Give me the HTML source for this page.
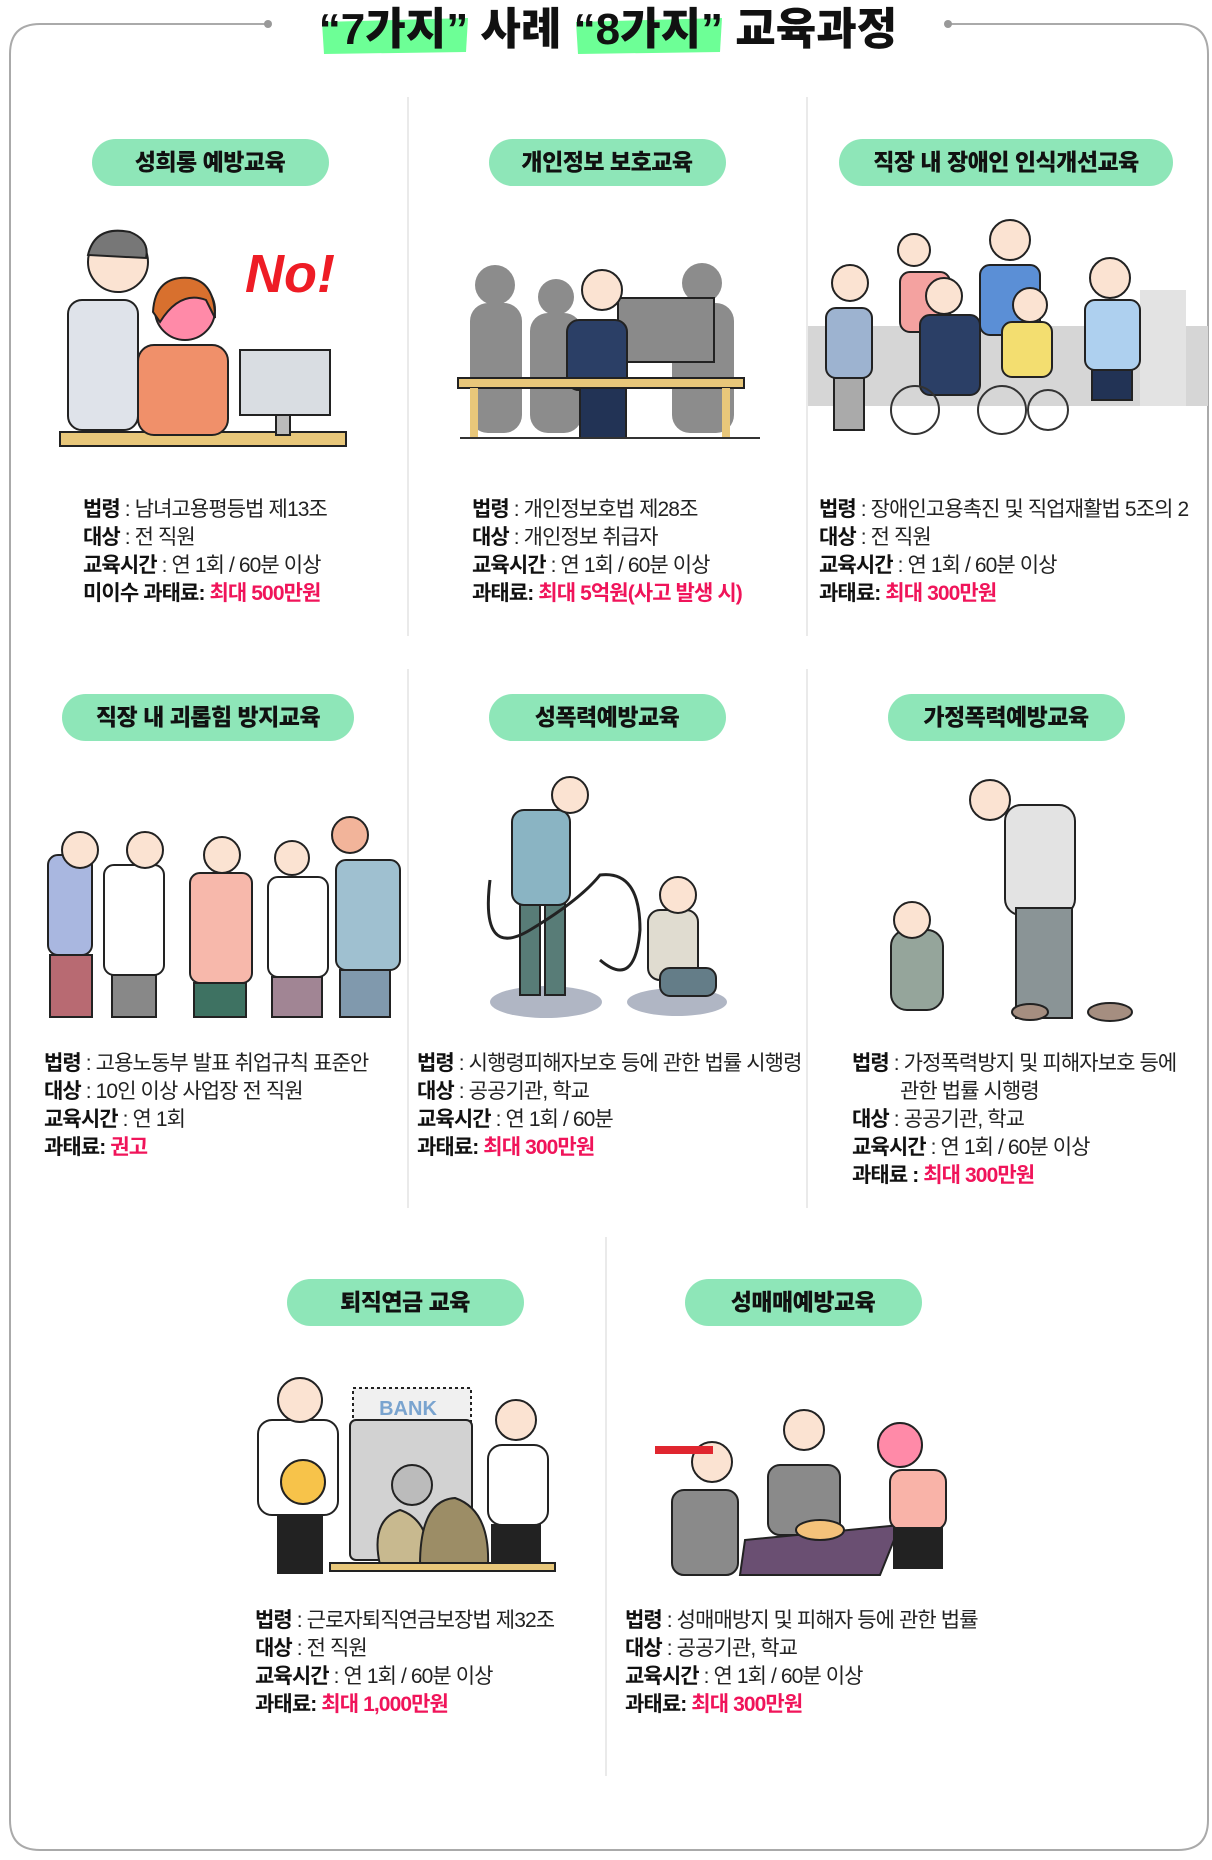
<!DOCTYPE html>
<html><head><meta charset="utf-8"><style>
html,body{margin:0;padding:0;background:#fff;width:1212px;height:1860px;overflow:hidden}
svg{display:block}
text{font-family:"Liberation Sans","Noto Sans CJK KR",sans-serif}
.t{font-size:21px;fill:#222;letter-spacing:-0.9px}
.b{font-weight:700;fill:#111}
.r{font-weight:700;fill:#f0145a}
.p{font-size:23px;font-weight:900;fill:#111;letter-spacing:-0.5px}
.o{stroke:#222;stroke-width:2}
</style></head><body>
<svg width="1212" height="1860" viewBox="0 0 1212 1860">
<path d="M268 24 H40 Q10 24 10 54 V1820 Q10 1850 40 1850 H1178 Q1208 1850 1208 1820 V54 Q1208 24 1178 24 H948" fill="none" stroke="#aaa" stroke-width="2"/>
<circle cx="268" cy="24" r="4" fill="#999"/><circle cx="948" cy="24" r="4" fill="#999"/>
<path d="M322 22 L468 18 L466 52 L324 54Z" fill="#6dff96"/>
<path d="M576 22 L722 18 L720 52 L578 54Z" fill="#6dff96"/>
<text x="608" y="44" text-anchor="middle" style="font-size:44px;font-weight:900;fill:#111;letter-spacing:0px">“7가지” 사례 “8가지” 교육과정</text>
<g stroke="#e4e4e4" stroke-width="1.5">
<line x1="408" y1="97" x2="408" y2="636"/><line x1="807" y1="97" x2="807" y2="636"/>
<line x1="408" y1="669" x2="408" y2="1208"/><line x1="807" y1="669" x2="807" y2="1208"/>
<line x1="606" y1="1237" x2="606" y2="1776"/>
</g>
<g fill="#8ee6b8">
<rect x="92" y="139" width="237" height="47" rx="23.5"/>
<rect x="489" y="139" width="237" height="47" rx="23.5"/>
<rect x="839" y="139" width="334" height="47" rx="23.5"/>
<rect x="62" y="694" width="292" height="47" rx="23.5"/>
<rect x="489" y="694" width="237" height="47" rx="23.5"/>
<rect x="888" y="694" width="237" height="47" rx="23.5"/>
<rect x="287" y="1279" width="237" height="47" rx="23.5"/>
<rect x="685" y="1279" width="237" height="47" rx="23.5"/>
</g>
<g class="p" text-anchor="middle">
<text x="210" y="170">성희롱 예방교육</text>
<text x="607" y="170">개인정보 보호교육</text>
<text x="1006" y="170">직장 내 장애인 인식개선교육</text>
<text x="208" y="725">직장 내 괴롭힘 방지교육</text>
<text x="607" y="725">성폭력예방교육</text>
<text x="1006" y="725">가정폭력예방교육</text>
<text x="405" y="1310">퇴직연금 교육</text>
<text x="803" y="1310">성매매예방교육</text>
</g>

<rect x="60" y="432" width="286" height="14" fill="#e8c77a" class="o"/>
<rect x="240" y="350" width="90" height="65" fill="#d9dde2" class="o"/>
<rect x="276" y="415" width="14" height="20" fill="#bbb" class="o"/>
<rect x="68" y="300" width="70" height="130" rx="14" fill="#dfe3ea" class="o"/>
<circle cx="118" cy="262" r="30" fill="#fbe3d2" class="o"/>
<path d="M88 255 Q95 225 130 232 Q150 240 146 258 Z" fill="#777" class="o"/>
<rect x="138" y="345" width="90" height="90" rx="16" fill="#f0906a" class="o"/>
<circle cx="185" cy="310" r="30" fill="#ff8aa8" class="o"/>
<path d="M153 312 Q155 275 190 278 Q215 282 215 318 L206 300 Q180 290 160 322Z" fill="#d8702e" class="o"/>
<text x="245" y="292" style="font-size:54px;font-weight:900;fill:#ee1c25;font-style:italic">No!</text>
<g fill="#8c8c8c">
<circle cx="495" cy="285" r="20"/><rect x="470" y="303" width="52" height="130" rx="18"/>
<circle cx="556" cy="297" r="18"/><rect x="530" y="313" width="52" height="120" rx="18"/>
<circle cx="702" cy="283" r="20"/><rect x="672" y="303" width="62" height="130" rx="18"/>
</g>
<rect x="618" y="298" width="96" height="64" fill="#8a8a8a" class="o"/>
<rect x="567" y="320" width="60" height="70" rx="12" fill="#2b3f66" class="o"/>
<circle cx="602" cy="290" r="20" fill="#fbe3d2" class="o"/>
<rect x="458" y="378" width="286" height="10" fill="#e8c77a" class="o"/>
<rect x="470" y="388" width="8" height="50" fill="#e8c77a"/><rect x="722" y="388" width="8" height="50" fill="#e8c77a"/>
<rect x="580" y="388" width="46" height="50" fill="#223355" class="o"/>
<line x1="460" y1="438" x2="760" y2="438" stroke="#333" stroke-width="2"/>
<rect x="808" y="326" width="400" height="80" fill="#d6d6d6"/>
<rect x="1140" y="290" width="46" height="116" fill="#e3e3e3"/>
<g class="o">
<rect x="826" y="308" width="46" height="70" rx="10" fill="#9db3d0"/><rect x="834" y="378" width="30" height="52" fill="#aaa"/><circle cx="850" cy="283" r="18" fill="#fbe3d2"/>
<rect x="900" y="272" width="50" height="60" rx="10" fill="#f4a2a0"/><circle cx="914" cy="250" r="16" fill="#fbe3d2"/>
<rect x="980" y="265" width="60" height="70" rx="10" fill="#5b8fd6"/><circle cx="1010" cy="240" r="20" fill="#fbe3d2"/>
<rect x="1085" y="300" width="55" height="70" rx="10" fill="#aed0ef"/><rect x="1092" y="370" width="40" height="30" fill="#223355"/><circle cx="1110" cy="278" r="20" fill="#fbe3d2"/>
<rect x="1002" y="322" width="50" height="55" rx="10" fill="#f3de70"/><circle cx="1030" cy="305" r="17" fill="#fbe3d2"/>
<rect x="920" y="315" width="60" height="80" rx="10" fill="#2b3f66"/><circle cx="944" cy="296" r="18" fill="#fbe3d2"/>
</g>
<g fill="none" stroke="#333" stroke-width="2"><circle cx="915" cy="410" r="24"/><circle cx="1002" cy="410" r="24"/><circle cx="1048" cy="410" r="20"/></g>

<g class="t">
<text x="83" y="516"><tspan class="b">법령</tspan> : 남녀고용평등법 제13조</text>
<text x="83" y="544"><tspan class="b">대상</tspan> : 전 직원</text>
<text x="83" y="572"><tspan class="b">교육시간</tspan> : 연 1회 / 60분 이상</text>
<text x="83" y="600" class="b">미이수 과태료: <tspan class="r">최대 500만원</tspan></text>
<text x="472" y="516"><tspan class="b">법령</tspan> : 개인정보호법 제28조</text>
<text x="472" y="544"><tspan class="b">대상</tspan> : 개인정보 취급자</text>
<text x="472" y="572"><tspan class="b">교육시간</tspan> : 연 1회 / 60분 이상</text>
<text x="472" y="600" class="b">과태료: <tspan class="r">최대 5억원(사고 발생 시)</tspan></text>
<text x="819" y="516"><tspan class="b">법령</tspan> : 장애인고용촉진 및 직업재활법 5조의 2</text>
<text x="819" y="544"><tspan class="b">대상</tspan> : 전 직원</text>
<text x="819" y="572"><tspan class="b">교육시간</tspan> : 연 1회 / 60분 이상</text>
<text x="819" y="600" class="b">과태료: <tspan class="r">최대 300만원</tspan></text>
</g>

<g class="o" transform="translate(0,-35)">
<rect x="48" y="890" width="44" height="100" rx="10" fill="#a9b7e0"/><rect x="50" y="990" width="42" height="62" fill="#b86a72"/><circle cx="80" cy="885" r="18" fill="#fbe3d2"/>
<rect x="104" y="900" width="60" height="110" rx="10" fill="#fff"/><rect x="112" y="1010" width="44" height="42" fill="#888"/><circle cx="145" cy="885" r="18" fill="#fbe3d2"/>
<rect x="190" y="908" width="62" height="110" rx="10" fill="#f7b8ab"/><rect x="194" y="1018" width="52" height="34" fill="#3e7262"/><circle cx="222" cy="890" r="18" fill="#fbe3d2"/>
<rect x="268" y="912" width="60" height="100" rx="10" fill="#fff"/><rect x="272" y="1012" width="50" height="40" fill="#a18594"/><circle cx="292" cy="893" r="17" fill="#fbe3d2"/>
<rect x="336" y="895" width="64" height="110" rx="10" fill="#9fc0d0"/><rect x="340" y="1005" width="50" height="47" fill="#8099ad"/><circle cx="350" cy="870" r="18" fill="#f2b49a"/>
</g>
<g class="o">
<ellipse cx="546" cy="1002" rx="56" ry="16" fill="#b0b6c4" stroke="none"/><ellipse cx="677" cy="1002" rx="50" ry="14" fill="#b0b6c4" stroke="none"/>
<rect x="520" y="900" width="20" height="95" fill="#587c77"/><rect x="545" y="900" width="20" height="95" fill="#587c77"/>
<rect x="512" y="810" width="58" height="95" rx="12" fill="#8ab4c3"/>
<circle cx="570" cy="795" r="18" fill="#fbe3d2"/>
<rect x="648" y="910" width="50" height="70" rx="12" fill="#e0dcd0"/><rect x="660" y="968" width="56" height="28" rx="10" fill="#647d88"/><circle cx="678" cy="895" r="18" fill="#fbe3d2"/>
<rect x="1005" y="805" width="70" height="110" rx="16" fill="#e3e3e3"/><rect x="1016" y="908" width="56" height="110" fill="#8a9496"/><circle cx="990" cy="800" r="20" fill="#fbe3d2"/>
<ellipse cx="1030" cy="1012" rx="18" ry="8" fill="#a58e80"/><ellipse cx="1110" cy="1012" rx="22" ry="9" fill="#a58e80"/>
<rect x="891" y="930" width="52" height="80" rx="16" fill="#95a59b"/><circle cx="912" cy="920" r="18" fill="#fbe3d2"/>
</g>
<path d="M490 880 Q480 960 530 930 Q580 900 600 875 Q640 870 640 930 Q635 990 600 960" fill="none" stroke="#222" stroke-width="3"/>

<g class="t">
<text x="44" y="1070"><tspan class="b">법령</tspan> : 고용노동부 발표 취업규칙 표준안</text>
<text x="44" y="1098"><tspan class="b">대상</tspan> : 10인 이상 사업장 전 직원</text>
<text x="44" y="1126"><tspan class="b">교육시간</tspan> : 연 1회</text>
<text x="44" y="1154" class="b">과태료: <tspan class="r">권고</tspan></text>
<text x="417" y="1070"><tspan class="b">법령</tspan> : 시행령피해자보호 등에 관한 법률 시행령</text>
<text x="417" y="1098"><tspan class="b">대상</tspan> : 공공기관, 학교</text>
<text x="417" y="1126"><tspan class="b">교육시간</tspan> : 연 1회 / 60분</text>
<text x="417" y="1154" class="b">과태료: <tspan class="r">최대 300만원</tspan></text>
<text x="852" y="1070"><tspan class="b">법령</tspan> : 가정폭력방지 및 피해자보호 등에</text>
<text x="900" y="1098">관한 법률 시행령</text>
<text x="852" y="1126"><tspan class="b">대상</tspan> : 공공기관, 학교</text>
<text x="852" y="1154"><tspan class="b">교육시간</tspan> : 연 1회 / 60분 이상</text>
<text x="852" y="1182" class="b">과태료 : <tspan class="r">최대 300만원</tspan></text>
</g>

<g class="o">
<rect x="353" y="1388" width="118" height="44" fill="#f0f0f0" stroke-dasharray="3 3"/>
<rect x="350" y="1420" width="122" height="140" rx="6" fill="#d2d2d2"/>
<circle cx="412" cy="1485" r="20" fill="#bbb"/>
<rect x="258" y="1420" width="80" height="95" rx="14" fill="#fff"/><rect x="278" y="1515" width="44" height="58" fill="#222"/>
<circle cx="300" cy="1400" r="22" fill="#fbe3d2"/><circle cx="303" cy="1482" r="22" fill="#f7c34a"/>
<rect x="488" y="1445" width="60" height="80" rx="14" fill="#fff"/><rect x="492" y="1525" width="48" height="42" fill="#222"/>
<circle cx="516" cy="1420" r="20" fill="#fbe3d2"/>
<path d="M380 1565 Q370 1520 400 1510 Q430 1520 430 1565Z" fill="#c8b98f"/>
<path d="M420 1565 Q420 1500 455 1498 Q490 1510 488 1565Z" fill="#9c8d66"/>
<rect x="330" y="1563" width="225" height="8" fill="#e8c77a"/>
<text x="408" y="1415" text-anchor="middle" style="font-size:20px;font-weight:700;fill:#7aa4cf;stroke:none">BANK</text>
<path d="M745 1540 L900 1525 L880 1575 L740 1575Z" fill="#6a4f72"/>
<rect x="672" y="1490" width="66" height="85" rx="12" fill="#8a8a8a"/><circle cx="712" cy="1462" r="20" fill="#fbe3d2"/>
<rect x="768" y="1465" width="72" height="70" rx="12" fill="#8a8a8a"/><circle cx="804" cy="1430" r="20" fill="#fbe3d2"/>
<rect x="890" y="1470" width="56" height="60" rx="12" fill="#f9b3a8"/><rect x="894" y="1528" width="48" height="40" fill="#222"/><circle cx="900" cy="1445" r="22" fill="#ff8aa8"/>
<ellipse cx="820" cy="1530" rx="24" ry="10" fill="#f4c27a"/>
</g>
<rect x="655" y="1446" width="58" height="8" fill="#e0262f"/>

<g class="t">
<text x="255" y="1627"><tspan class="b">법령</tspan> : 근로자퇴직연금보장법 제32조</text>
<text x="255" y="1655"><tspan class="b">대상</tspan> : 전 직원</text>
<text x="255" y="1683"><tspan class="b">교육시간</tspan> : 연 1회 / 60분 이상</text>
<text x="255" y="1711" class="b">과태료: <tspan class="r">최대 1,000만원</tspan></text>
<text x="625" y="1627"><tspan class="b">법령</tspan> : 성매매방지 및 피해자 등에 관한 법률</text>
<text x="625" y="1655"><tspan class="b">대상</tspan> : 공공기관, 학교</text>
<text x="625" y="1683"><tspan class="b">교육시간</tspan> : 연 1회 / 60분 이상</text>
<text x="625" y="1711" class="b">과태료: <tspan class="r">최대 300만원</tspan></text>
</g>
</svg>
</body></html>
